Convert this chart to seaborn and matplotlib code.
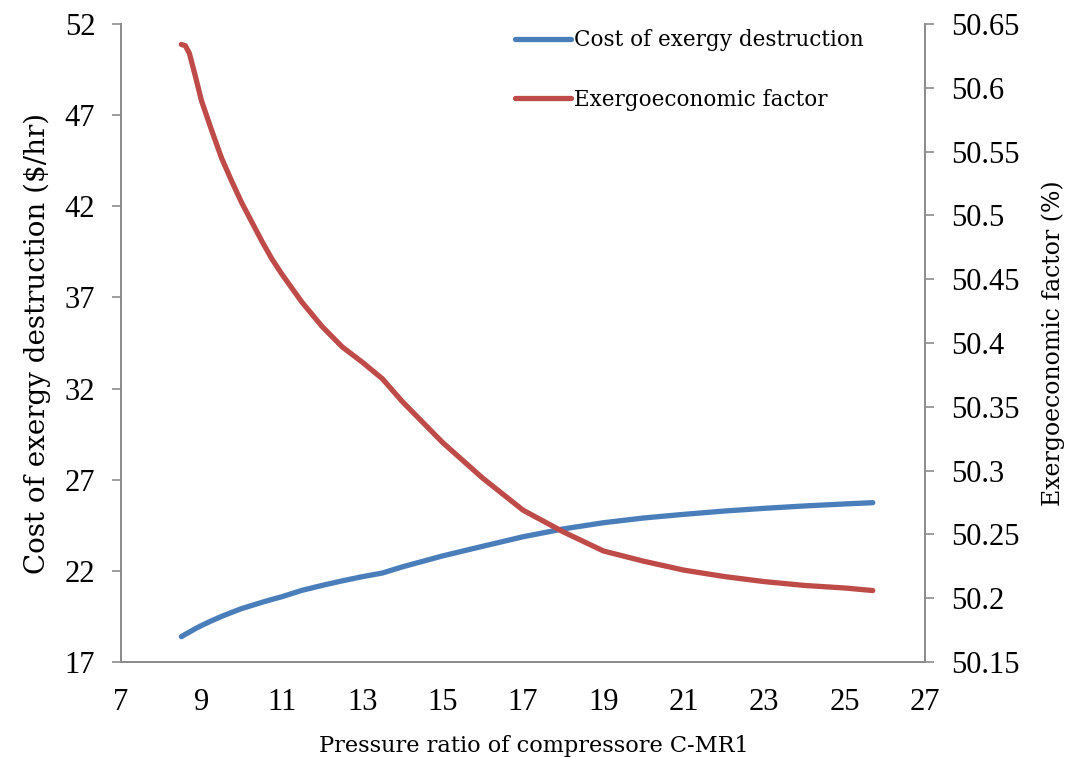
import seaborn as sns
import matplotlib.pyplot as plt
import pandas as pd

# pressure ratio of compressor C-MR1
pressure_ratio = [8.5, 8.6, 8.7, 8.85, 9.0, 9.25, 9.5, 9.75, 10.0, 10.25, 10.5, 10.75,
                  11.0, 11.5, 12.0, 12.5, 13.0, 13.5, 14.0, 14.5, 15.0, 16.0, 17.0,
                  18.0, 19.0, 20.0, 21.0, 22.0, 23.0, 24.0, 25.0, 25.7]
# cost of exergy destruction ($/hr)
cost_exd = [18.39, 18.52, 18.64, 18.83, 19.00, 19.26, 19.50, 19.72, 19.93, 20.10, 20.27, 20.43,
            20.58, 20.93, 21.20, 21.45, 21.68, 21.88, 22.22, 22.52, 22.82, 23.35, 23.87,
            24.30, 24.64, 24.90, 25.10, 25.28, 25.43, 25.56, 25.67, 25.74]
# exergoeconomic factor (%)
exergo_factor = [50.634, 50.633, 50.627, 50.609, 50.590, 50.567, 50.545, 50.527, 50.510,
                 50.495, 50.480, 50.466, 50.454, 50.432, 50.413, 50.397, 50.385, 50.372,
                 50.354, 50.338, 50.322, 50.294, 50.269, 50.252, 50.237, 50.229, 50.222,
                 50.217, 50.213, 50.210, 50.208, 50.206]

x_ticks = [7, 9, 11, 13, 15, 17, 19, 21, 23, 25, 27]
left_ticks = [17, 22, 27, 32, 37, 42, 47, 52]
right_ticks = [50.15, 50.2, 50.25, 50.3, 50.35, 50.4, 50.45, 50.5, 50.55, 50.6, 50.65]

df = pd.DataFrame({"pr": pressure_ratio, "cost": cost_exd, "factor": exergo_factor})

sns.set_style("white")
plt.rcParams["font.family"] = ["DejaVu Serif"]
plt.rcParams["text.color"] = "black"
plt.rcParams["axes.labelcolor"] = "black"

BLUE = "#4a7ebb"
RED = "#be4b48"
GREY = "#8c8c8c"

fig = plt.figure(figsize=(10.73, 7.57), dpi=100)
ax = fig.add_axes([0.1128, 0.1255, 0.7493, 0.8428])
ax2 = ax.twinx()

sns.lineplot(data=df, x="pr", y="cost", ax=ax, color=BLUE, linewidth=3.8,
             label="Cost of exergy destruction", legend=False,
             solid_capstyle="round", solid_joinstyle="round")
sns.lineplot(data=df, x="pr", y="factor", ax=ax2, color=RED, linewidth=3.8,
             label="Exergoeconomic factor", legend=False,
             solid_capstyle="round", solid_joinstyle="round")

ax.set_xlim(7, 27)
ax.set_ylim(17, 52)
ax2.set_ylim(50.15, 50.65)
ax.set_xticks(x_ticks)
ax.set_yticks(left_ticks)
ax2.set_yticks(right_ticks)
ax2.set_yticklabels([f"{v:g}" for v in right_ticks])

for a in (ax, ax2):
    a.spines["top"].set_visible(False)
    for s in ("left", "right", "bottom"):
        a.spines[s].set_color(GREY)
        a.spines[s].set_linewidth(1.3)
    a.tick_params(direction="out", length=6.5, width=1.2, color=GREY, pad=12,
                  labelsize=22, labelcolor="black", labelfontfamily="Liberation Serif")
    a.grid(False)

ax.set_xlabel("Pressure ratio of compressore C-MR1", fontsize=16.2)
ax.xaxis.set_label_coords(0.514, -0.115)
ax.set_ylabel("Cost of exergy destruction ($/hr)", fontsize=20, labelpad=10)
ax2.set_ylabel("Exergoeconomic factor (%)", fontsize=17, labelpad=16)

h1, l1 = ax.get_legend_handles_labels()
h2, l2 = ax2.get_legend_handles_labels()
fig.legend(h1 + h2, l1 + l2, loc="upper left", bbox_to_anchor=(0.462, 0.987),
           frameon=False, fontsize=15.5, handlelength=2.6, handletextpad=0.15,
           labelspacing=1.75)

fig.savefig("out.png", dpi=100)
